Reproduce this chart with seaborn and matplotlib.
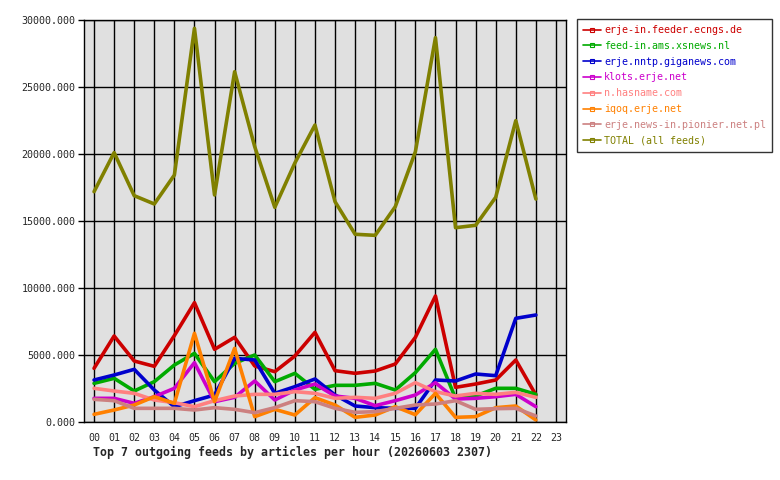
import numpy as np
import pandas as pd
import seaborn as sns
import matplotlib.pyplot as plt

hours = ["%02d" % h for h in range(24)]

feeds = ["erje-in.feeder.ecngs.de", "feed-in.ams.xsnews.nl", "erje.nntp.giganews.com",
         "klots.erje.net", "n.hasname.com", "iqoq.erje.net",
         "erje.news-in.pionier.net.pl", "TOTAL (all feeds)"]
colors = ["#cc0000", "#00aa00", "#0000cc", "#cc00cc", "#ff8080", "#ff8000", "#cc8080", "#808000"]

ecngs = [4005, 6418, 4552, 4154, 6450, 8905, 5423, 6318, 4180, 3756, 4925, 6690,
         3830, 3632, 3806, 4328, 6318, 9403, 2587, 2836, 3134, 4627, 2015]
xsnews = [2885, 3259, 2313, 3010, 4254, 5124, 3010, 4378, 5000, 3010, 3632, 2438,
          2736, 2736, 2885, 2388, 3682, 5423, 1766, 1940, 2513, 2513, 2065]
giganews = [3134, 3507, 3930, 2388, 1144, 1592, 2015, 4751, 4627, 2139, 2637, 3209,
            2015, 1194, 1070, 1020, 1020, 3134, 3060, 3582, 3458, 7737, 7985]
klots = [1766, 1766, 1393, 1890, 2513, 4428, 1518, 1841, 3060, 1642, 2388, 2836,
         1940, 1766, 1219, 1592, 2015, 2935, 1716, 1766, 1890, 2065, 1144]
hasname = [2513, 2313, 2139, 1642, 1443, 1144, 1592, 1940, 2065, 2065, 2264, 2139,
           1766, 1841, 1766, 2139, 2935, 2264, 1940, 2139, 2065, 2214, 1841]
iqoq = [572, 896, 1269, 1890, 1393, 6617, 1518, 5498, 398, 945, 522, 1816,
        1269, 348, 522, 1144, 547, 2139, 348, 398, 1070, 1194, 149]
pionier = [1691, 1592, 1020, 1020, 1020, 896, 1070, 945, 697, 1070, 1592, 1518,
           1020, 721, 771, 1020, 1269, 1343, 1592, 945, 995, 1020, 448]
total = [17187, 20100, 16890, 16270, 18430, 29380, 16940, 26140, 20550, 16020, 19330, 22160,
         16440, 14010, 13930, 16070, 20170, 28680, 14500, 14680, 16770, 22490, 16640]

series = [ecngs, xsnews, giganews, klots, hasname, iqoq, pionier, total]

rows = []
for name, vals in zip(feeds, series):
    for h, v in enumerate(vals):
        rows.append({"hour": h, "articles": v, "feed": name})
df = pd.DataFrame(rows)

sns.set_style("white")
plt.rcParams['font.family'] = ['DejaVu Sans Mono']

fig = plt.figure(figsize=(7.8, 4.8), dpi=100)
ax = fig.add_axes([84/780, 58/480, 482/780, 402/480])
ax.set_facecolor("#e0e0e0")

sns.lineplot(data=df, x="hour", y="articles", hue="feed", hue_order=feeds,
             palette=colors, linewidth=2.6, ax=ax, legend=False)

ax.set_xlim(-0.5, 23.5)
ax.set_ylim(0, 30000)
ax.set_xticks(range(24))
ax.set_xticklabels(hours, fontsize=7.2)
ax.set_yticks(np.arange(0, 30001, 5000))
ax.set_yticklabels(["%.3f" % v for v in np.arange(0, 30001, 5000)], fontsize=7.2)
ax.tick_params(axis="x", length=0, pad=8)
ax.tick_params(axis="y", length=4, width=1, color="black", pad=2, left=True)
ax.grid(True, color="black", linewidth=1)
ax.set_axisbelow(True)
for s in ax.spines.values():
    s.set_color("black")
    s.set_linewidth(1)
ax.set_xlabel("")
ax.set_ylabel("")

handles = [plt.Line2D([], [], color=c, linewidth=1.2, marker="s", markersize=3,
                      markerfacecolor="none", markeredgewidth=0.8) for c in colors]
leg = fig.legend(handles, feeds, loc="upper left", bbox_to_anchor=(577/780, 1 - 19/480),
                 fontsize=7.2, frameon=True, fancybox=False, edgecolor="black",
                 labelcolor=colors, handlelength=1.8, handletextpad=0.3,
                 labelspacing=0.58, borderpad=0.6, borderaxespad=0)
leg.get_frame().set_linewidth(1)

fig.text(93/780, 1 - 452/480, "Top 7 outgoing feeds by articles per hour (20260603 2307)",
         fontsize=8.4, fontweight="bold", va="center", ha="left")

fig.savefig("out.png", dpi=100)
